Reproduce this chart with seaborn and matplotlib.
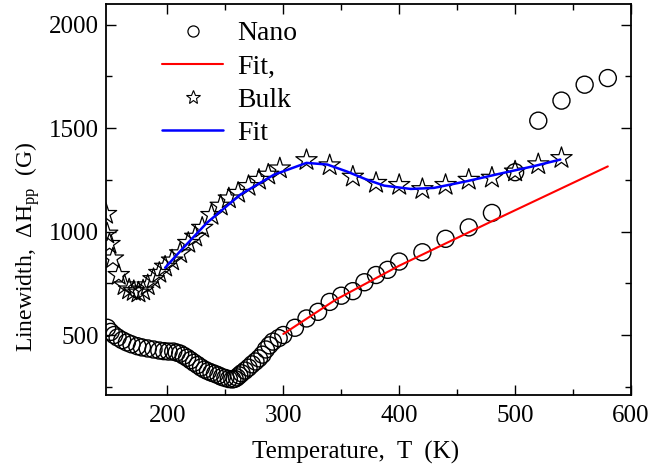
import matplotlib
matplotlib.use("Agg")
import matplotlib.pyplot as plt
import seaborn as sns
import pandas as pd
from matplotlib.lines import Line2D

# Nano sample: linewidth vs temperature
nano_T = [148, 151, 154, 157, 161, 165, 169, 174, 178, 183, 188, 193, 197, 201, 205,
          208, 211, 214, 217, 220, 223, 226, 229, 232, 235, 238, 241, 244, 247, 250,
          253, 256, 258, 260, 262, 264, 267, 270, 273, 276, 279, 282, 285, 288, 291,
          296, 300, 310, 320, 330, 340, 350, 360, 370, 380, 390, 400, 420, 440, 460,
          480, 500, 520, 540, 560, 580]
nano_H = [535, 515, 500, 488, 475, 464, 455, 446, 440, 435, 430, 425, 422, 420, 420,
          415, 410, 400, 390, 378, 366, 355, 343, 333, 325, 318, 312, 305, 297, 292,
          287, 285, 288, 295, 305, 315, 328, 342, 358, 372, 387, 405, 430, 450, 468,
          485, 500, 535, 580, 612, 660, 690, 712, 755, 790, 815, 855, 900, 965, 1020,
          1090, 1287, 1536, 1633, 1710, 1742]

# linear-ish fit for nano
nano_fit_T = [300, 345, 400, 480, 580]
nano_fit_H = [505, 670, 835, 1050, 1315]

# Bulk sample
bulk_T = [147, 148, 150, 153, 158, 163, 167, 171, 175, 179, 183, 188, 193, 198, 204,
          211, 218, 224, 230, 238, 246, 253, 261, 270, 279, 287, 297, 320, 340, 360,
          380, 400, 420, 440, 460, 480, 500, 520, 540]
bulk_H = [1085, 990, 940, 870, 790, 740, 720, 712, 705, 715, 740, 770, 800, 830, 860,
          895, 945, 975, 1018, 1080, 1125, 1160, 1187, 1220, 1250, 1275, 1305, 1345, 1320, 1265,
          1235, 1225, 1205, 1225, 1250, 1260, 1290, 1325, 1355]

# fit for bulk
bulk_fit_T = [198, 211, 234, 263, 292, 320, 338, 355, 372, 387, 410, 430, 458, 487, 516, 539]
bulk_fit_H = [825, 905, 1042, 1179, 1275, 1332, 1324, 1290, 1251, 1222, 1206, 1211, 1243, 1280, 1316, 1348]

sns.set_style("ticks")
plt.rcParams['font.family'] = ['Liberation Serif', 'DejaVu Serif']
plt.rcParams['mathtext.default'] = 'regular'
plt.rcParams['text.color'] = 'black'
plt.rcParams['axes.labelcolor'] = 'black'

fig = plt.figure(figsize=(6.49, 4.74), dpi=100)
ax = fig.add_axes([106 / 649, 1 - 395 / 474, 525 / 649, 391 / 474])

nano = pd.DataFrame({"T": nano_T, "H": nano_H})
bulk = pd.DataFrame({"T": bulk_T, "H": bulk_H})
nano_fit = pd.DataFrame({"T": nano_fit_T, "H": nano_fit_H})
bulk_fit = pd.DataFrame({"T": bulk_fit_T, "H": bulk_fit_H})

sns.scatterplot(data=nano, x="T", y="H", ax=ax, marker="o", s=150,
                facecolors="none", edgecolor="black", linewidth=1.0, zorder=2)
sns.scatterplot(data=bulk, x="T", y="H", ax=ax, marker="*", s=260,
                facecolors="none", edgecolor="black", linewidth=0.9, zorder=2)
sns.lineplot(data=nano_fit, x="T", y="H", ax=ax, color="#ff0000", lw=1.5, zorder=3)
sns.lineplot(data=bulk_fit, x="T", y="H", ax=ax, color="#0000ff", lw=1.8, zorder=3)

ax.set_xlim(147, 600)
ax.set_ylim(210, 2100)
ax.set_xticks([200, 300, 400, 500, 600])
ax.set_xticks([250, 350, 450, 550], minor=True)
ax.set_yticks([500, 1000, 1500, 2000])
ax.set_yticks([250, 750, 1250, 1750], minor=True)
ax.tick_params(which="both", direction="in", top=True, right=True, width=1.0,
               labelsize=18, colors="black", labelcolor="black")
ax.tick_params(axis="x", pad=7)
ax.tick_params(axis="y", pad=5)
ax.tick_params(which="major", length=7)
ax.tick_params(which="minor", length=4)
for sp in ax.spines.values():
    sp.set_linewidth(1.3)
    sp.set_color("black")

ax.set_xlabel("Temperature,  T  (K)", fontsize=18)
ax.set_ylabel("Linewidth,  ΔH$_{pp}$  (G)", fontsize=17)
ax.xaxis.set_label_coords(0.476, -0.118)
ax.yaxis.set_label_coords(-0.122, 0.378)

handles = [
    Line2D([], [], ls="none", marker="o", mfc="none", mec="black", ms=8, mew=0.9),
    Line2D([], [], color="#ff0000", lw=1.5),
    Line2D([], [], ls="none", marker="*", mfc="none", mec="black", ms=10, mew=0.8),
    Line2D([], [], color="#0000ff", lw=1.8),
]
ax.legend(handles, ["Nano", "Fit,", "Bulk", "Fit"], loc="upper left", frameon=False,
          fontsize=20, handlelength=2.2, labelspacing=0.28, handletextpad=0.5,
          borderaxespad=0.0, bbox_to_anchor=(0.086, 0.985))

fig.savefig("out.png", dpi=100)
